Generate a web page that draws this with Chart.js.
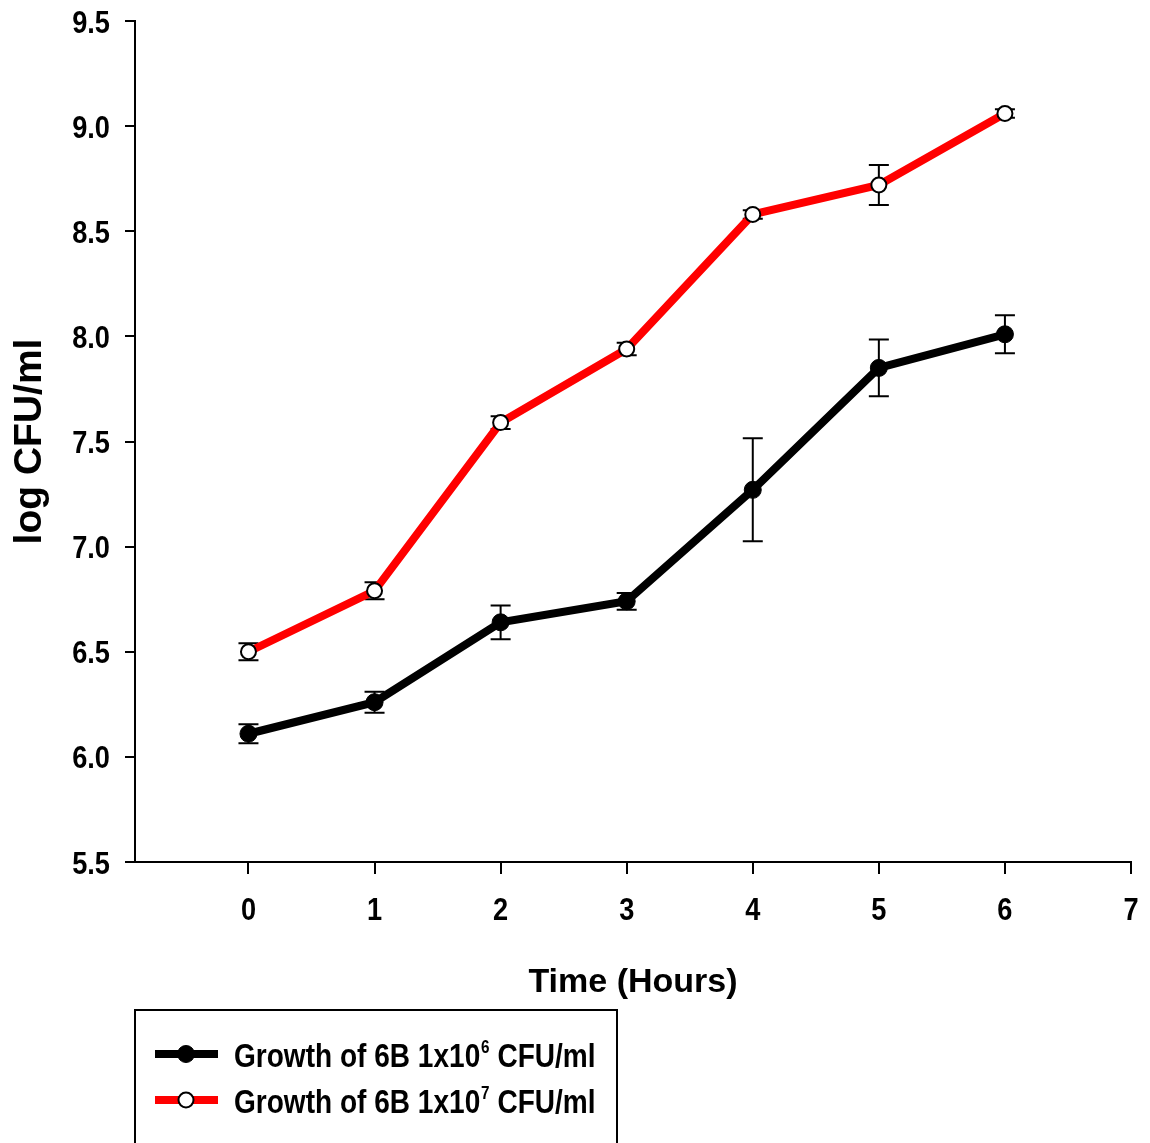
<!DOCTYPE html>
<html>
<head>
<meta charset="utf-8">
<script src="https://cdn.jsdelivr.net/npm/chart.js@4.4.1/dist/chart.umd.min.js"></script>
<style>
    html, body { margin: 0; padding: 0; background: #fff; }
    canvas { display: block; }
</style>
</head>
<body>
<canvas id="growthChart" width="1150" height="1143"></canvas>
<script>
// Tempo (horas) e contagens em log CFU/ml
const hours = [0, 1, 2, 3, 4, 5, 6];
const growth1e6 = [6.11, 6.26, 6.64, 6.74, 7.27, 7.85, 8.01];
const growth1e6Err = [0.045, 0.05, 0.08, 0.04, 0.245, 0.135, 0.09];
const growth1e7 = [6.50, 6.79, 7.59, 7.94, 8.58, 8.72, 9.06];
const growth1e7Err = [0.04, 0.04, 0.03, 0.03, 0.02, 0.095, 0.02];

// Marcas dos eixos
const xTicks = [0, 1, 2, 3, 4, 5, 6, 7];
const yTicks = [5.5, 6.0, 6.5, 7.0, 7.5, 8.0, 8.5, 9.0, 9.5];

// Textos da legenda (base, expoente e unidade)
const legendText = ['Growth of 6B 1x10', 'Growth of 6B 1x10'];
const legendExp = ['6', '7'];
const legendUnit = ' CFU/ml';

const FONT = '"Liberation Sans", Arial, sans-serif';
const SQUEEZE = 0.85; // fonte bold comprimida na horizontal
Chart.defaults.font.family = FONT;
Chart.defaults.color = '#000';

// Escreve texto comprimido horizontalmente
function squeezedText(ctx, text, x, y, align) {
    ctx.save();
    ctx.translate(x, y);
    ctx.scale(SQUEEZE, 1);
    ctx.textAlign = align;
    ctx.fillText(text, 0, 0);
    ctx.restore();
}

// Rótulos dos eixos desenhados à mão para usar a fonte comprimida
const tickLabels = {
    id: 'tickLabels',
    afterDraw(chart) {
        const ctx = chart.ctx;
        const xs = chart.scales.x;
        const ys = chart.scales.y;
        ctx.save();
        ctx.fillStyle = '#000';
        ctx.textBaseline = 'alphabetic';
        ctx.font = 'bold 32px ' + FONT;
        xs.ticks.forEach(t => {
            squeezedText(ctx, String(t.value), xs.getPixelForValue(t.value), xs.top + 58, 'center');
        });
        ys.ticks.forEach(t => {
            squeezedText(ctx, t.value.toFixed(1), ys.right - 25, ys.getPixelForValue(t.value) + 11.5, 'right');
        });
        ctx.restore();
    }
};

// Barras de erro desenhadas por baixo das linhas e marcadores
const errorBars = {
    id: 'errorBars',
    beforeDatasetsDraw(chart) {
        const ctx = chart.ctx;
        const xs = chart.scales.x;
        const ys = chart.scales.y;
        ctx.save();
        ctx.strokeStyle = '#000';
        ctx.lineWidth = 2;
        chart.data.datasets.forEach(ds => {
            ds.data.forEach((p, i) => {
                const e = ds.errors[i];
                const px = xs.getPixelForValue(p.x);
                const top = ys.getPixelForValue(p.y + e);
                const bot = ys.getPixelForValue(p.y - e);
                ctx.beginPath();
                ctx.moveTo(px, top); ctx.lineTo(px, bot);
                ctx.moveTo(px - 10, top); ctx.lineTo(px + 10, top);
                ctx.moveTo(px - 10, bot); ctx.lineTo(px + 10, bot);
                ctx.stroke();
            });
        });
        ctx.restore();
    }
};

// Caixa de legenda abaixo do gráfico
const legendBox = {
    id: 'legendBox',
    afterDraw(chart) {
        const ctx = chart.ctx;
        ctx.save();
        ctx.strokeStyle = '#000';
        ctx.lineWidth = 2;
        ctx.strokeRect(135, 1010, 482, 200);
        chart.data.datasets.forEach((ds, i) => {
            const yy = 1054 + i * 46;
            ctx.strokeStyle = ds.borderColor;
            ctx.lineWidth = 8;
            ctx.beginPath();
            ctx.moveTo(155, yy);
            ctx.lineTo(218, yy);
            ctx.stroke();

            ctx.beginPath();
            ctx.arc(186, yy, ds.pointRadius, 0, Math.PI * 2);
            ctx.fillStyle = ds.pointBackgroundColor;
            ctx.fill();
            ctx.lineWidth = ds.pointBorderWidth;
            ctx.strokeStyle = ds.pointBorderColor;
            ctx.stroke();

            ctx.save();
            ctx.translate(234, yy + 13);
            ctx.scale(SQUEEZE, 1);
            let tx = 0;
            ctx.fillStyle = '#000';
            ctx.textBaseline = 'alphabetic';
            ctx.font = 'bold 33px ' + FONT;
            ctx.fillText(legendText[i], tx, 0);
            tx += ctx.measureText(legendText[i]).width + 1;
            ctx.font = 'bold 18px ' + FONT;
            ctx.fillText(legendExp[i], tx, -14);
            tx += ctx.measureText(legendExp[i]).width;
            ctx.font = 'bold 33px ' + FONT;
            ctx.fillText(legendUnit, tx, 0);
            ctx.restore();
        });
        ctx.restore();
    }
};

function createGrowthChart() {
    const ctx = document.getElementById('growthChart').getContext('2d');
    new Chart(ctx, {
        type: 'line',
        data: {
            datasets: [
                {
                    label: legendText[0] + legendExp[0] + legendUnit,
                    data: hours.map((h, i) => ({ x: h, y: growth1e6[i] })),
                    errors: growth1e6Err,
                    borderColor: '#000',
                    borderWidth: 8,
                    pointRadius: 8.5,
                    pointBackgroundColor: '#000',
                    pointBorderColor: '#000',
                    pointBorderWidth: 1,
                    tension: 0
                },
                {
                    label: legendText[1] + legendExp[1] + legendUnit,
                    data: hours.map((h, i) => ({ x: h, y: growth1e7[i] })),
                    errors: growth1e7Err,
                    borderColor: '#ff0000',
                    borderWidth: 8,
                    pointRadius: 7.5,
                    pointBackgroundColor: '#fff',
                    pointBorderColor: '#000',
                    pointBorderWidth: 2,
                    tension: 0
                }
            ]
        },
        options: {
            responsive: false,
            animation: false,
            layout: { padding: { top: 21, right: 19, left: 0, bottom: 0 } },
            plugins: {
                legend: { display: false },
                tooltip: { enabled: true }
            },
            scales: {
                x: {
                    type: 'linear',
                    min: -0.9,
                    max: 7,
                    afterBuildTicks: s => { s.ticks = xTicks.map(v => ({ value: v })); },
                    afterFit: s => { s.height = 281; s.paddingLeft = 0; s.paddingRight = 0; },
                    grid: { drawOnChartArea: false, color: '#000', lineWidth: 2, tickLength: 12 },
                    border: { color: '#000', width: 2 },
                    ticks: { display: false },
                    title: {
                        display: true,
                        text: 'Time (Hours)',
                        color: '#000',
                        font: { size: 34, weight: 'bold' },
                        padding: { top: 0, bottom: 140 }
                    }
                },
                y: {
                    min: 5.5,
                    max: 9.5,
                    afterBuildTicks: s => { s.ticks = yTicks.map(v => ({ value: v })); },
                    afterFit: s => { s.width = 135; s.paddingTop = 0; s.paddingBottom = 0; },
                    grid: { drawOnChartArea: false, color: '#000', lineWidth: 2, tickLength: 10 },
                    border: { color: '#000', width: 2 },
                    ticks: { display: false },
                    title: {
                        display: true,
                        text: 'log CFU/ml',
                        color: '#000',
                        font: { size: 39, weight: 'bold' },
                        padding: { top: 7, bottom: 0 }
                    }
                }
            }
        },
        plugins: [errorBars, tickLabels, legendBox]
    });
}

createGrowthChart();
</script>
</body>
</html>
